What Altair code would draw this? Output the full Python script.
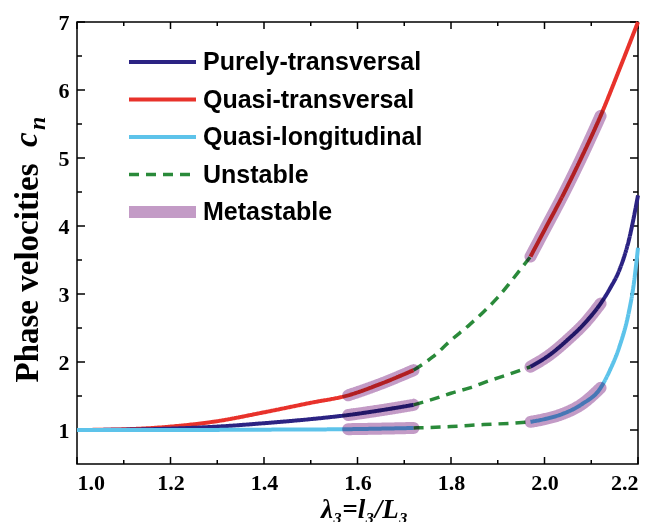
import altair as alt
import pandas as pd

names = ["Purely-transversal", "Quasi-transversal", "Quasi-longitudinal", "Unstable", "Metastable"]
colors = ["#2b2383", "#e8322b", "#5dc3ea", "#2a8a3a", "#c39bc6"]
dashes = [[1, 0], [1, 0], [1, 0], [10, 7], [1, 0]]
widths = [4, 4, 4, 3.5, 12]

# Quasi-transversal (red)
qt_x1 = [1.00, 1.10, 1.20, 1.30, 1.40, 1.50, 1.58, 1.65, 1.72]
qt_y1 = [1.00, 1.01, 1.05, 1.13, 1.26, 1.40, 1.51, 1.68, 1.88]
qt_xu = [1.72, 1.76, 1.80, 1.84, 1.87, 1.90, 1.93, 1.97]
qt_yu = [1.88, 2.07, 2.32, 2.55, 2.74, 2.95, 3.20, 3.55]
qt_x2 = [1.97, 2.00, 2.04, 2.08, 2.12, 2.16, 2.20]
qt_y2 = [3.55, 3.94, 4.46, 5.02, 5.62, 6.30, 7.00]

# Purely-transversal (navy)
pt_x1 = [1.00, 1.10, 1.20, 1.30, 1.40, 1.50, 1.58, 1.65, 1.72]
pt_y1 = [1.00, 1.005, 1.02, 1.05, 1.10, 1.16, 1.22, 1.29, 1.37]
pt_xu = [1.72, 1.76, 1.80, 1.84, 1.88, 1.92, 1.97]
pt_yu = [1.37, 1.45, 1.54, 1.62, 1.72, 1.81, 1.93]
pt_x2 = [1.97, 2.01, 2.05, 2.09, 2.12, 2.14, 2.16, 2.18, 2.20]
pt_y2 = [1.93, 2.10, 2.33, 2.60, 2.86, 3.08, 3.35, 3.78, 4.45]

# Quasi-longitudinal (light blue)
ql_x1 = [1.00, 1.20, 1.40, 1.58, 1.65, 1.72]
ql_y1 = [1.00, 1.00, 1.005, 1.012, 1.02, 1.03]
ql_xu = [1.72, 1.80, 1.87, 1.93, 1.97]
ql_yu = [1.03, 1.05, 1.08, 1.10, 1.12]
ql_x2 = [1.97, 2.00, 2.04, 2.08, 2.12, 2.14, 2.16, 2.18, 2.19, 2.20]
ql_y2 = [1.12, 1.16, 1.24, 1.38, 1.62, 1.88, 2.22, 2.72, 3.10, 3.68]

meta_ranges = [(1.58, 1.72), (1.97, 2.12)]

x_major = [1.0, 1.2, 1.4, 1.6, 1.8, 2.0, 2.2]
x_minor = [1.1, 1.3, 1.5, 1.7, 1.9, 2.1]
y_major = [1, 2, 3, 4, 5, 6, 7]
y_minor = [1.5, 2.5, 3.5, 4.5, 5.5, 6.5]

W, H = 561, 442

rows = []
curves = [
    ("Quasi-transversal", qt_x1, qt_y1, qt_xu, qt_yu, qt_x2, qt_y2),
    ("Purely-transversal", pt_x1, pt_y1, pt_xu, pt_yu, pt_x2, pt_y2),
    ("Quasi-longitudinal", ql_x1, ql_y1, ql_xu, ql_yu, ql_x2, ql_y2),
]
for name, x1, y1, xu, yu, x2, y2 in curves:
    for i, (a, b) in enumerate(zip(x1, y1)):
        rows.append(dict(series=name, seg=name + "-a", x=a, y=b, o=i))
    for i, (a, b) in enumerate(zip(xu, yu)):
        rows.append(dict(series="Unstable", seg=name + "-u", x=a, y=b, o=i))
    for i, (a, b) in enumerate(zip(x2, y2)):
        rows.append(dict(series=name, seg=name + "-b", x=a, y=b, o=i))
    for k, (lo, hi) in enumerate(meta_ranges):
        xs_all = x1 + x2
        ys_all = y1 + y2
        seen = set()
        for i, (a, b) in enumerate(zip(xs_all, ys_all)):
            if lo - 1e-9 <= a <= hi + 1e-9 and a not in seen:
                seen.add(a)
                rows.append(dict(series="Metastable", seg=name + "-m%d" % k, x=a, y=b, o=i))

df = pd.DataFrame(rows)
lines_df = df[df.series != "Metastable"]
meta_df = df[df.series == "Metastable"]

xs = alt.Scale(domain=[1.0, 2.2], nice=False, zero=False)
ys = alt.Scale(domain=[0.5, 7], nice=False, zero=False)

serif = "Liberation Serif"
sans = "Liberation Sans"

leg = alt.Legend(
    title=None, orient="none", legendX=46, legendY=27,
    symbolType="stroke", symbolSize=4489, clipHeight=26,
    labelFont=sans, labelFontSize=25, labelFontWeight="bold", labelColor="black",
    labelOffset=1, rowPadding=11.5, padding=0, labelLimit=400,
    labelExpr="(datum.value == 'Unstable' || datum.value == 'Metastable') ? '\\u00a0' + datum.label : datum.label",
)

x_enc = alt.X("x:Q", scale=xs, axis=alt.Axis(
    values=x_major, format=".1f", ticks=False, domain=False, grid=False,
    labelFont=serif, labelFontSize=22, labelFontWeight="bold", labelColor="black", labelPadding=8,
    title="λ₃=l₃/L₃", titleFont=serif, titleFontSize=27, titleFontWeight="bold",
    titleFontStyle="italic", titleColor="black", titleX=287, titleY=53,
    titleBaseline="alphabetic", titleAlign="center"))
y_enc = alt.Y("y:Q", scale=ys, axis=alt.Axis(
    values=y_major, format="d", ticks=False, domain=False, grid=False,
    labelFont=serif, labelFontSize=22, labelFontWeight="bold", labelColor="black", labelPadding=8,
    title="Phase velocities", titleFont=serif, titleFontSize=33, titleFontWeight="bold",
    titleColor="black", titleAngle=270, titleAlign="left", titleBaseline="alphabetic",
    titleX=-40, titleY=360))

common = dict(
    color=alt.Color("series:N", scale=alt.Scale(domain=names, range=colors), legend=leg),
    strokeDash=alt.StrokeDash("series:N", scale=alt.Scale(domain=names, range=dashes), legend=leg),
    strokeWidth=alt.StrokeWidth("series:N", scale=alt.Scale(type="ordinal", domain=names, range=widths), legend=leg),
    detail="seg:N",
    order="o:Q",
)

lines = alt.Chart(lines_df).mark_line(interpolate="monotone").encode(x=x_enc, y=y_enc, **common)
bands = alt.Chart(meta_df).mark_line(interpolate="monotone", strokeCap="round", blend="multiply").encode(
    x=alt.X("x:Q", scale=xs), y=alt.Y("y:Q", scale=ys), **common)


def xticks(vals, length):
    d = pd.DataFrame({"v": vals})
    b = alt.Chart(d).mark_rule(color="black", strokeWidth=1.5).encode(
        x=alt.X("v:Q", scale=xs), y=alt.value(H), y2=alt.value(H - length))
    t = alt.Chart(d).mark_rule(color="black", strokeWidth=1.5).encode(
        x=alt.X("v:Q", scale=xs), y=alt.value(0), y2=alt.value(length))
    return [b, t]


def yticks(vals, length):
    d = pd.DataFrame({"v": vals})
    l = alt.Chart(d).mark_rule(color="black", strokeWidth=1.5).encode(
        y=alt.Y("v:Q", scale=ys), x=alt.value(0), x2=alt.value(length))
    r = alt.Chart(d).mark_rule(color="black", strokeWidth=1.5).encode(
        y=alt.Y("v:Q", scale=ys), x=alt.value(W), x2=alt.value(W - length))
    return [l, r]


ticks = xticks(x_major, 7) + xticks(x_minor, 4) + yticks(y_major, 8) + yticks(y_minor, 5)

title_c = alt.Chart(pd.DataFrame({"t": ["c"]})).mark_text(
    font=serif, fontSize=33, fontWeight="bold", fontStyle="italic", angle=270,
    align="left", baseline="alphabetic", color="black").encode(
    text="t:N", x=alt.value(-40), y=alt.value(125))
title_n = alt.Chart(pd.DataFrame({"t": ["n"]})).mark_text(
    font=serif, fontSize=24, fontWeight="bold", fontStyle="italic", angle=270,
    align="left", baseline="alphabetic", color="black").encode(
    text="t:N", x=alt.value(-32), y=alt.value(108))

chart = alt.layer(*ticks, lines, bands, title_c, title_n).properties(
    width=W, height=H,
    autosize=alt.AutoSizeParams(type="none"),
    padding={"left": 69, "top": 14, "right": 9, "bottom": 58},
).configure_view(stroke="black", strokeWidth=1.5)

chart.save("out.html", embed_options={"renderer": "svg", "actions": False})
